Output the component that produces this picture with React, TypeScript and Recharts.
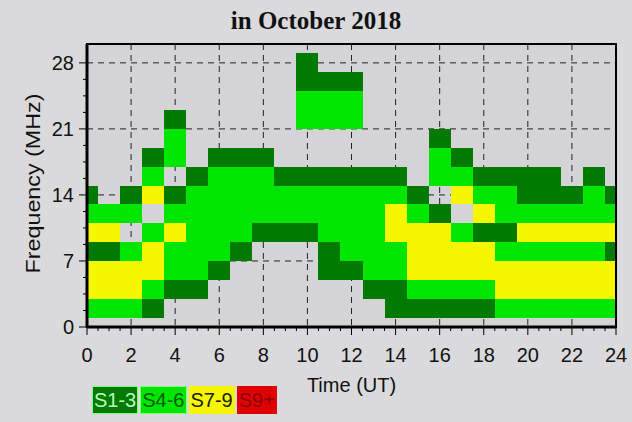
import { ComposedChart, XAxis, YAxis, CartesianGrid, ReferenceArea, Scatter, Label } from "recharts";

// hour of day (UT), one column per hour, each cell 1 h wide centred on the hour
const HOURS = [0, 1, 2, 3, 4, 5, 6, 7, 8, 9, 10, 11, 12, 13, 14, 15, 16, 17, 18, 19, 20, 21, 22, 23, 24];
// frequency bands (MHz), each cell 2 MHz tall centred on the value, top row first
const FREQS = [28, 26, 24, 22, 20, 18, 16, 14, 12, 10, 8, 6, 4, 2];
// signal class per cell: 0 none, 1 S1-3, 2 S4-6, 3 S7-9, 4 S9+
const LEVELS = [
  [0, 0, 0, 0, 0, 0, 0, 0, 0, 0, 1, 0, 0, 0, 0, 0, 0, 0, 0, 0, 0, 0, 0, 0, 0], // 28
  [0, 0, 0, 0, 0, 0, 0, 0, 0, 0, 1, 1, 1, 0, 0, 0, 0, 0, 0, 0, 0, 0, 0, 0, 0], // 26
  [0, 0, 0, 0, 0, 0, 0, 0, 0, 0, 2, 2, 2, 0, 0, 0, 0, 0, 0, 0, 0, 0, 0, 0, 0], // 24
  [0, 0, 0, 0, 1, 0, 0, 0, 0, 0, 2, 2, 2, 0, 0, 0, 0, 0, 0, 0, 0, 0, 0, 0, 0], // 22
  [0, 0, 0, 0, 2, 0, 0, 0, 0, 0, 0, 0, 0, 0, 0, 0, 1, 0, 0, 0, 0, 0, 0, 0, 0], // 20
  [0, 0, 0, 1, 2, 0, 1, 1, 1, 0, 0, 0, 0, 0, 0, 0, 2, 1, 0, 0, 0, 0, 0, 0, 0], // 18
  [0, 0, 0, 2, 0, 1, 2, 2, 2, 1, 1, 1, 1, 1, 1, 0, 2, 2, 1, 1, 1, 1, 0, 1, 0], // 16
  [1, 0, 1, 3, 1, 2, 2, 2, 2, 2, 2, 2, 2, 2, 2, 1, 0, 3, 2, 2, 1, 1, 1, 2, 1], // 14
  [2, 2, 2, 0, 2, 2, 2, 2, 2, 2, 2, 2, 2, 2, 3, 2, 1, 0, 3, 2, 2, 2, 2, 2, 2], // 12
  [3, 3, 0, 2, 3, 2, 2, 2, 1, 1, 1, 2, 2, 2, 3, 3, 3, 2, 1, 1, 3, 3, 3, 3, 3], // 10
  [1, 1, 2, 3, 2, 2, 2, 1, 0, 0, 0, 1, 2, 2, 2, 3, 3, 3, 3, 2, 2, 2, 2, 2, 1], // 8
  [3, 3, 3, 3, 2, 2, 1, 0, 0, 0, 0, 1, 1, 2, 2, 3, 3, 3, 3, 3, 3, 3, 3, 3, 3], // 6
  [3, 3, 3, 2, 1, 1, 0, 0, 0, 0, 0, 0, 0, 1, 1, 2, 2, 2, 2, 3, 3, 3, 3, 3, 3], // 4
  [2, 2, 2, 1, 0, 0, 0, 0, 0, 0, 0, 0, 0, 0, 1, 1, 1, 1, 1, 2, 2, 2, 2, 2, 2], // 2
];
const LEGEND = ["S1-3", "S4-6", "S7-9", "S9+"];
const X_GRID = [0, 2, 4, 6, 8, 10, 12, 14, 16, 18, 20, 22, 24];
const Y_GRID = [7, 14, 21, 28];
const X_TICKS = Array.from({ length: 49 }, (_, i) => i * 0.5);
const Y_TICKS = Array.from({ length: 17 }, (_, i) => i * 1.75);

const COLORS = ["none", "#007a00", "#00e600", "#f6f600", "#e00000"];
const LEGEND_TEXT = ["#b8ffb8", "#005a00", "#202000", "#8a0000"];
const SANS = "'Liberation Sans', Arial, sans-serif";

const cells = FREQS.flatMap((f, r) =>
  HOURS.map((h, c) => ({ h, f, level: LEVELS[r][c] })).filter((d) => d.level > 0)
);

const CellRect = (p: any) => (
  <rect x={p.x} y={p.y} width={p.width} height={p.height} fill={p.fill} shapeRendering="crispEdges" />
);

function XTick({ x, y, payload }: any) {
  const v = payload.value;
  const major = v % 2 === 0;
  return (
    <g>
      <line x1={x} x2={x} y1={y} y2={y + (major ? 8 : 4)} stroke="#000" />
      {major && (
        <text x={x} y={y + 35} textAnchor="middle" fontSize={20} fill="#111" fontFamily={SANS}>
          {v}
        </text>
      )}
    </g>
  );
}

function YTick({ x, y, payload }: any) {
  const v = payload.value;
  const major = v % 7 === 0;
  return (
    <g>
      <line x1={x} x2={x - (major ? 8 : 4)} y1={y} y2={y} stroke="#000" />
      {major && (
        <text x={x - 13} y={y + 7} textAnchor="end" fontSize={20} fill="#111" fontFamily={SANS}>
          {v}
        </text>
      )}
    </g>
  );
}

export default function App() {
  return (
    <div style={{ position: "absolute", left: 0, top: 0, width: 632, height: 422, background: "#dadadc" }}>
      <div
        style={{
          position: "absolute",
          left: 0,
          top: 8,
          width: 632,
          textAlign: "center",
          fontFamily: "'Liberation Serif', 'Times New Roman', serif",
          fontWeight: "bold",
          fontSize: 25,
          lineHeight: "25px",
          color: "#111",
        }}
      >
        in October 2018
      </div>
      <ComposedChart width={632} height={422} margin={{ top: 44, right: 16, left: 0, bottom: 65 }}>
        <CartesianGrid
          fill="#d4d4d6"
          stroke="#222"
          strokeDasharray="6 5"
          verticalValues={X_GRID}
          horizontalValues={Y_GRID}
        />
        <XAxis
          type="number"
          dataKey="h"
          domain={[0, 24]}
          ticks={X_TICKS}
          interval={0}
          tickSize={0}
          tickMargin={0}
          tickLine={false}
          tick={<XTick />}
          axisLine={{ stroke: "#000", strokeWidth: 3 }}
          height={30}
        >
          <Label
            content={({ viewBox }: any) => (
              <text
                x={viewBox.x + viewBox.width / 2}
                y={viewBox.y + 65}
                textAnchor="middle"
                fontSize={20}
                fill="#111"
                fontFamily={SANS}
              >
                Time (UT)
              </text>
            )}
          />
        </XAxis>
        <YAxis
          type="number"
          dataKey="f"
          domain={[0, 30]}
          ticks={Y_TICKS}
          interval={0}
          tickSize={0}
          tickMargin={0}
          tickLine={false}
          tick={<YTick />}
          axisLine={{ stroke: "#000", strokeWidth: 3 }}
          width={87}
        >
          <Label
            content={({ viewBox }: any) => (
              <text
                transform={`translate(${viewBox.x + 32}, ${viewBox.y + viewBox.height / 2 - 2}) rotate(-90)`}
                textAnchor="middle"
                dominantBaseline="central"
                fontSize={21}
                textLength={180}
                lengthAdjust="spacingAndGlyphs"
                fill="#111"
                fontFamily={SANS}
              >
                Frequency (MHz)
              </text>
            )}
          />
        </YAxis>
        <Scatter data={cells} fill="none" shape={() => <g />} isAnimationActive={false} />
        {cells.map((d, i) => (
          <ReferenceArea
            key={i}
            x1={Math.max(0, d.h - 0.5)}
            x2={Math.min(24, d.h + 0.5)}
            y1={d.f - 1}
            y2={d.f + 1}
            fill={COLORS[d.level]}
            fillOpacity={1}
            stroke="none"
            shape={CellRect}
          />
        ))}
        <ReferenceArea x1={0} x2={24} y1={0} y2={30} fill="none" stroke="#000" strokeWidth={2} />
      </ComposedChart>
      <div style={{ position: "absolute", left: 92, top: 386, display: "flex", gap: 2 }}>
        {LEGEND.map((s, i) => (
          <div
            key={s}
            style={{
              background: COLORS[i + 1],
              color: LEGEND_TEXT[i],
              border: "1px solid " + (i < 2 ? "#7dff7d" : COLORS[i + 1]),
              fontFamily: SANS,
              fontSize: 20,
              lineHeight: "26px",
              height: 26,
              padding: "0 1px",
            }}
          >
            {s}
          </div>
        ))}
      </div>
    </div>
  );
}
